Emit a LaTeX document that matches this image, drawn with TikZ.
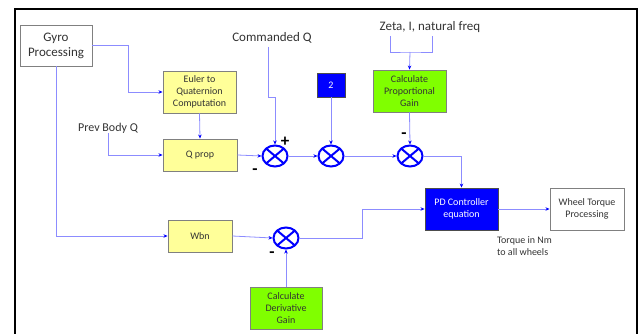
\documentclass[tikz,border=0pt]{standalone}
\usepackage{fontspec}
\setmainfont{Carlito}
\usetikzlibrary{shapes.geometric,arrows.meta}
\definecolor{pale}{HTML}{FFFF99}
\definecolor{lime}{HTML}{80FF00}
\definecolor{wirec}{HTML}{8C8CFF}
\definecolor{ink}{HTML}{333333}

\begin{document}
\begin{tikzpicture}
[x=1pt, y=-1pt, every node/.style={inner sep=0pt, text=ink, align=center},
 box/.style={rectangle, draw=gray, line width=0.9pt, font=\fontsize{10}{12}\selectfont},
 whitebox/.style={box, fill=white},
 yellowbox/.style={box, fill=pale},
 greenbox/.style={box, fill=lime},
 bluebox/.style={box, fill=blue, draw=black!70, text=white},
 sumpt/.style={ellipse, minimum width=25pt, minimum height=21pt, draw=blue, line width=2pt,
   path picture={\draw[blue, line width=2pt]
     (path picture bounding box.center) ++(-8.8pt,-7.4pt) -- ++(17.6pt,14.8pt)
     (path picture bounding box.center) ++(-8.8pt,7.4pt) -- ++(17.6pt,-14.8pt);}},
 lbl/.style={font=\fontsize{13}{15}\selectfont},
 sign/.style={font=\bfseries\fontsize{17}{17}\selectfont, text=black},
 wire/.style={color=wirec, line width=0.8pt},
 conn/.style={wire, -{Stealth[length=4pt, width=3.5pt, color=blue]}}]
\useasboundingbox (0,0) rectangle (643,334);
\draw [line width=1.6pt, color=black] (15,340) -- (15,9) -- (637,9) -- (637,340);
% blocks
\node (gyro) [whitebox, font=\fontsize{13}{15}\selectfont, minimum width=72pt, minimum height=41pt] at (56, 45.5) {Gyro\\Processing};
\node (euler) [yellowbox, minimum width=73pt, minimum height=42pt] at (199.5, 92) {Euler to\\Quaternion\\Computation};
\node (qprop) [yellowbox, minimum width=74pt, minimum height=32pt] at (200, 155) {Q prop};
\node (wbn) [yellowbox, minimum width=64pt, minimum height=32pt] at (200, 236) {Wbn};
\node (two) [bluebox, minimum width=28pt, minimum height=24pt] at (331, 85) {2};
\node (pgain) [greenbox, minimum width=73pt, minimum height=42pt] at (409.5, 91) {Calculate\\Proportional\\Gain};
\node (dgain) [greenbox, minimum width=72pt, minimum height=42pt] at (286, 308) {Calculate\\Derivative\\Gain};
\node (pd) [bluebox, minimum width=73pt, minimum height=42pt] at (461.5, 209) {PD Controller\\equation};
\node (wheel) [whitebox, minimum width=74pt, minimum height=42pt] at (587, 209) {Wheel Torque\\Processing};
% summing points
\node (j1) [sumpt] at (275, 156) {};
\node (j2) [sumpt] at (331, 156) {};
\node (j3) [sumpt] at (410, 156) {};
\node (j4) [sumpt] at (286, 238) {};
% labels
\node (cmdq) [lbl] at (272, 38) {Commanded Q};
\node (zeta) [lbl] at (430, 27) {Zeta, I, natural freq};
\node (prevq) [font=\fontsize{12}{14}\selectfont] at (108, 128) {Prev Body Q};
\node (torque) [font=\fontsize{10}{12}\selectfont, align=left, anchor=north west] at (497, 236) {Torque in Nm\\to all wheels};
\node (s1) [sign] at (285, 142) {+};
\node (s2) [sign] at (255, 172) {-};
\node (s3) [sign] at (404, 136) {-};
\node (s4) [sign] at (272, 255) {-};
\coordinate (cq) at (268, 47);
\coordinate (zl) at (390, 36);
\coordinate (zr) at (432, 36);
\coordinate (zm) at (410, 52);
% connectors
\draw [conn] (gyro.east) -- ++(36,0) |- (euler.west);
\draw [conn] (gyro.south) |- (wbn.west);
\draw [conn] (euler.south) -- (qprop.north);
\draw [conn] (prevq.south) |- (qprop.west);
\draw [conn] (qprop.east) -- (j1.west);
\draw [conn] (cq) -- ++(0,50) -| (j1.north);
\draw [conn] (j1.east) -- (j2.west);
\draw [conn] (two.south) -- (j2.north);
\draw [conn] (j2.east) -- (j3.west);
\draw [wire] (zl) |- (zm) -| (zr);
\draw [conn] (zm) -- (pgain.north);
\draw [conn] (pgain.south) -- (j3.north);
\draw [conn] (j3.east) -| (pd.north);
\draw [conn] (wbn.east) -- (j4.west);
\draw [conn] (dgain.north) -- (j4.south);
\draw [conn] (j4.east) -- ++(63,0) |- (pd.west);
\draw [conn] (pd.east) -- (wheel.west);
\end{tikzpicture}
\end{document}
